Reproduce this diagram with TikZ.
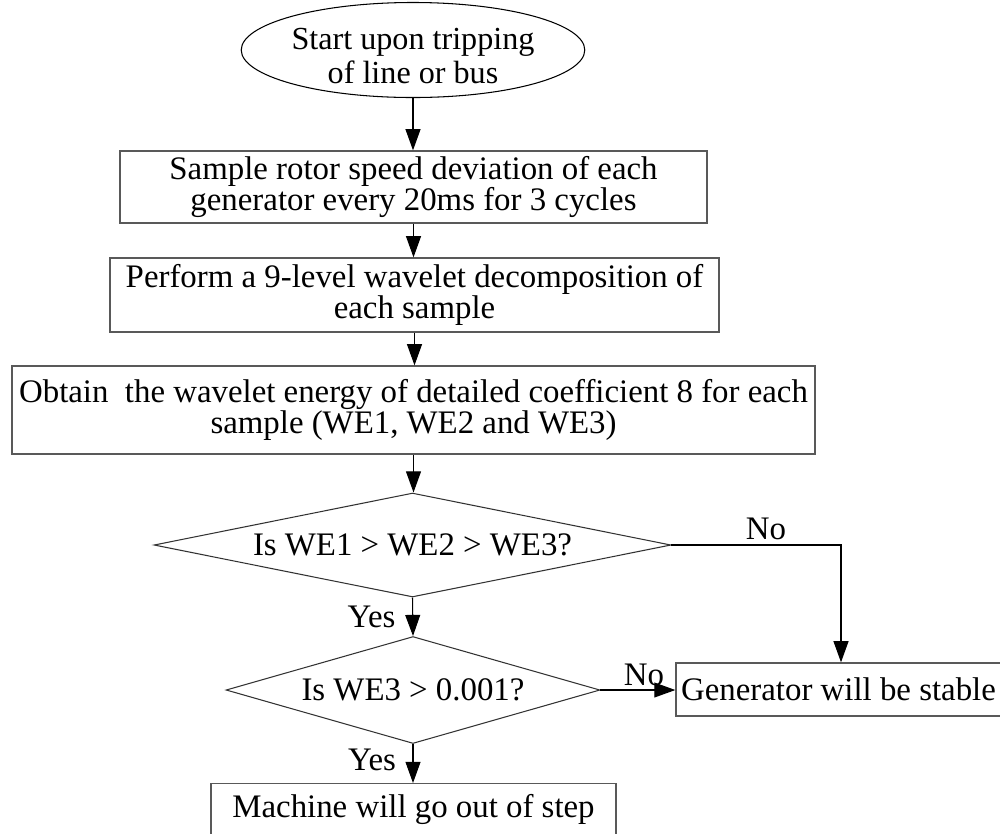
\documentclass[tikz,border=0pt]{standalone}
\usepackage{fontspec}
\setmainfont{Liberation Serif}
\usetikzlibrary{shapes.geometric,arrows.meta}

\tikzset{
  x=0.02cm, y=-0.02cm,
  every node/.style={font=\fontsize{18.7pt}{17.6pt}\selectfont, inner sep=0pt},
  line/.style={line width=0.6pt, draw=black},
  flow/.style={line, -{Triangle[length=12pt,width=8.5pt]}},
  procbox/.style={line, draw=black!65, line width=0.8pt, rectangle, align=center},
  startbox/.style={line, ellipse, align=center, font=\fontsize{18.3pt}{19pt}\selectfont},
  decision/.style={line, draw=black!80, diamond, align=center},
  tag/.style={anchor=base}
}

\begin{document}
\begin{tikzpicture}
  \useasboundingbox (0,0) rectangle (1000,833);
  \clip (0,0) rectangle (1000,833);

  % start (the strut lowers the two lines a little inside the ellipse)
  \node[startbox, minimum width=6.68cm, minimum height=1.88cm] (start) at (413,50)
    {\rule{0pt}{0.67cm}Start upon tripping\\of line or bus};

  % processing steps
  \node[procbox, minimum width=11.74cm, minimum height=1.44cm] (sample) at (413.5,187)
    {Sample rotor speed deviation of each\\generator every 20ms for 3 cycles};
  \node[procbox, minimum width=12.18cm, minimum height=1.48cm] (decomp) at (414.5,295)
    {Perform a 9-level wavelet decomposition of\\each sample};
  \node[procbox, minimum width=16.06cm, minimum height=1.76cm] (energy) at (413.5,410)
    {Obtain\ \ the wavelet energy of detailed coefficient 8 for each\\sample (WE1, WE2 and WE3)};

  % decisions
  \node[decision, aspect=5, minimum width=10.34cm, minimum height=2.08cm] (dec1) at (412.5,545)
    {Is WE1 {>} WE2 {>} WE3?};
  \node[decision, aspect=3.5, minimum width=7.48cm, minimum height=2.14cm] (dec2) at (413,690)
    {Is WE3 {>} 0.001?};

  % outcomes
  \node[procbox, minimum width=6.6cm, minimum height=1.06cm] (stable) at (841,689.5)
    {\hspace*{-0.1cm}Generator will be stable};
  \node[procbox, anchor=north, minimum width=8.1cm, inner ysep=0.25cm,
        text height=0.43cm, text depth=0.6cm] (outstep) at (413.5,783)
    {Machine will go out of step};

  % connectors
  \draw[flow] (start.south) -- (start.south |- sample.north);
  \draw[flow] (sample.south) -- (sample.south |- decomp.north);
  \draw[flow] (decomp.south) -- (decomp.south |- energy.north);
  \draw[flow] (energy.south) -- (energy.south |- dec1.north);
  \draw[flow] (dec1.south) -- (dec2.north);
  \draw[flow] (dec2.south) -- (dec2.south |- outstep.north);
  \draw[flow] (dec2.east) -- (dec2.east -| stable.west);
  \draw[flow] (dec1.east) -| (stable.north);

  % branch labels
  \node[tag] (no1) at (766,539) {No};
  \node[tag] (yes1) at (371.5,627) {Yes};
  \node[tag] (no2) at (644,685) {No};
  \node[tag] (yes2) at (372,770) {Yes};
\end{tikzpicture}
\end{document}
